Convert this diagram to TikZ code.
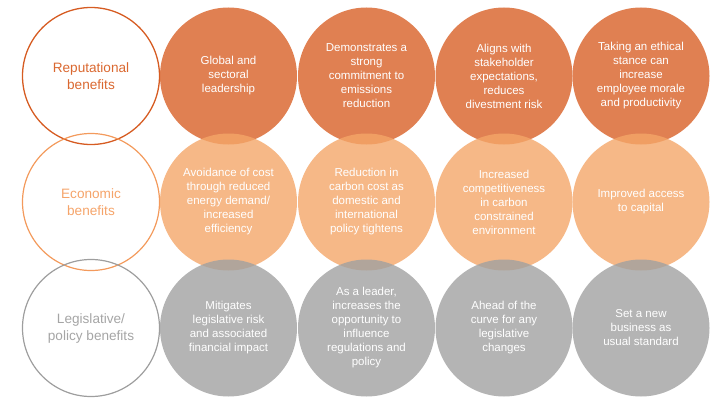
\documentclass[tikz,border=0pt]{standalone}
\usepackage{fontspec}
\setmainfont{Liberation Sans}
\definecolor{repfill}{RGB}{216,96,39}
\definecolor{ecofill}{RGB}{244,166,105}
\definecolor{legfill}{RGB}{161,161,161}
\definecolor{repline}{RGB}{214,92,34}
\definecolor{ecoline}{RGB}{243,154,92}
\definecolor{legline}{RGB}{158,158,158}
\definecolor{reptext}{RGB}{218,104,48}
\definecolor{ecotext}{RGB}{245,164,106}
\definecolor{legtext}{RGB}{165,165,165}

\begin{document}
\begin{tikzpicture}[x=1pt,y=1pt,
  bubble/.style={circle,minimum size=137pt,inner sep=0pt,align=center,text=white,
    fill opacity=0.8,text opacity=1,font=\fontsize{11.5}{14}\selectfont},
  head node/.style={circle,minimum size=137pt,inner sep=0pt,align=center,
    font=\fontsize{13.6}{17}\selectfont}]
\useasboundingbox (0,0) rectangle (723,-412);

% Reputational row
\node[head node,draw=repline,line width=1.3pt,text=reptext] (rephead) at (91,-76) {Reputational\\benefits};
\node[bubble,fill=repfill] (rep1) at (228.5,-76) {Global and\\sectoral\\leadership};
\node[bubble,fill=repfill] (rep2) at (366.5,-76) {Demonstrates a\\strong\\commitment to\\emissions\\reduction};
\node[bubble,fill=repfill] (rep3) at (504,-76) {Aligns with\\stakeholder\\expectations,\\reduces\\divestment risk};
\node[bubble,fill=repfill] (rep4) at (641,-76) {Taking an ethical\\stance can\\increase\\employee morale\\and productivity};

% Economic row
\node[head node,draw=ecoline,line width=1.2pt,text=ecotext] (ecohead) at (91,-202) {Economic\\benefits};
\node[bubble,fill=ecofill] (eco1) at (228.5,-202) {Avoidance of cost\\through reduced\\energy demand/\\increased\\efficiency};
\node[bubble,fill=ecofill] (eco2) at (366.5,-202) {Reduction in\\carbon cost as\\domestic and\\international\\policy tightens};
\node[bubble,fill=ecofill] (eco3) at (504,-202) {Increased\\competitiveness\\in carbon\\constrained\\environment};
\node[bubble,fill=ecofill] (eco4) at (641,-202) {Improved access\\to capital};

% Legislative row
\node[head node,draw=legline,line width=1.2pt,text=legtext] (leghead) at (91,-328) {Legislative/\\policy benefits};
\node[bubble,fill=legfill] (leg1) at (228.5,-328) {Mitigates\\legislative risk\\and associated\\financial impact};
\node[bubble,fill=legfill] (leg2) at (366.5,-328) {As a leader,\\increases the\\opportunity to\\influence\\regulations and\\policy};
\node[bubble,fill=legfill] (leg3) at (504,-328) {Ahead of the\\curve for any\\legislative\\changes};
\node[bubble,fill=legfill] (leg4) at (641,-328) {Set a new\\business as\\usual standard};

\end{tikzpicture}
\end{document}
